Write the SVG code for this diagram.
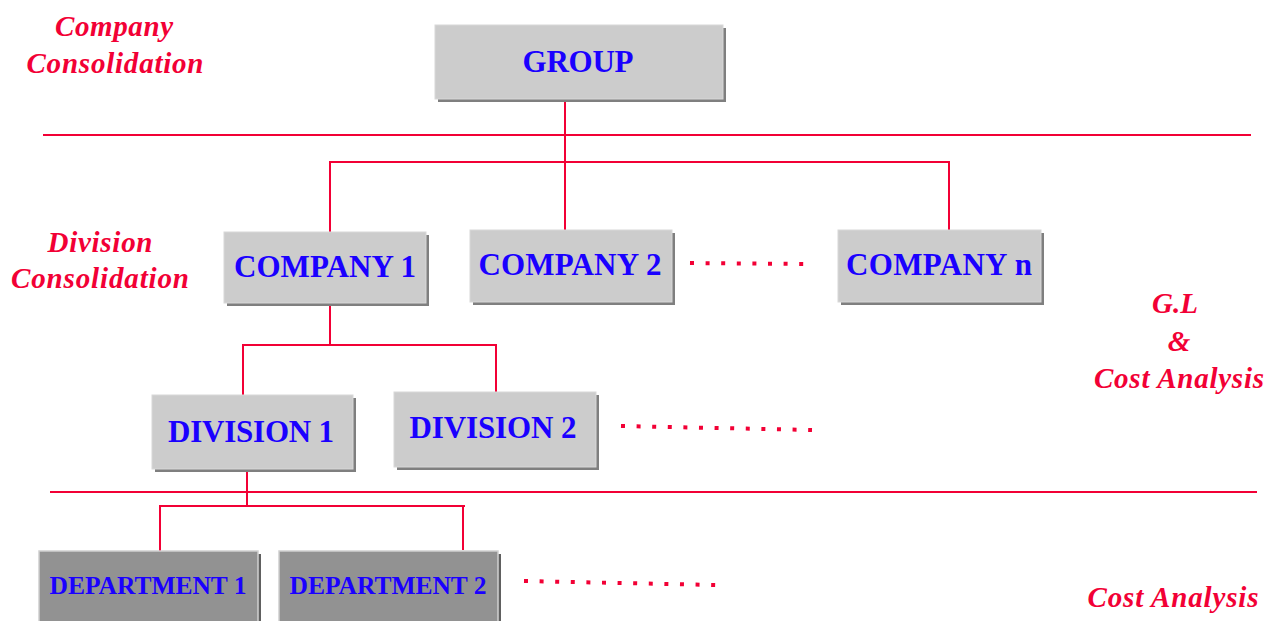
<svg xmlns="http://www.w3.org/2000/svg" width="1268" height="621" viewBox="0 0 1268 621">
<style>
.box{fill:#cccccc;stroke:#d8d8d8;stroke-width:1}
.shadow{fill:#7f7f7f}
.dbox{fill:#929292;stroke:#cfcfcf;stroke-width:1.5}
.dshadow{fill:#606060}
.bt{font-family:"Liberation Serif","Times New Roman",serif;font-weight:bold;fill:#1a00ff;text-anchor:middle}
.lbl{font-family:"Liberation Serif","Times New Roman",serif;font-weight:bold;font-style:italic;fill:#f20035;font-size:29px;text-anchor:middle}
.ln{stroke:#f20035;stroke-width:2;fill:none}
.dots{stroke:#f20035;stroke-width:4;stroke-dasharray:4 11.6;fill:none}
</style>
<rect width="1268" height="621" fill="#ffffff"/>

<g id="labels">
<text class="lbl" x="114" y="36" textLength="118" lengthAdjust="spacing">Company</text>
<text class="lbl" x="115" y="73" textLength="177" lengthAdjust="spacing">Consolidation</text>
<text class="lbl" x="100" y="252" textLength="105" lengthAdjust="spacing">Division</text>
<text class="lbl" x="100" y="288" textLength="178" lengthAdjust="spacing">Consolidation</text>
<text class="lbl" x="1175" y="313" textLength="46" lengthAdjust="spacing">G.L</text>
<text class="lbl" x="1179" y="351">&amp;</text>
<text class="lbl" x="1179" y="388" textLength="170" lengthAdjust="spacing">Cost Analysis</text>
<text class="lbl" x="1173" y="607" textLength="171" lengthAdjust="spacing">Cost Analysis</text>
</g>

<g id="connectors">
<line class="ln" x1="43" y1="135" x2="1251" y2="135"/>
<line class="ln" x1="50" y1="492" x2="1257" y2="492"/>
<line class="ln" x1="565" y1="100" x2="565" y2="231"/>
<polyline class="ln" points="330,232 330,162 949,162 949,230"/>
<line class="ln" x1="330" y1="304" x2="330" y2="345"/>
<polyline class="ln" points="243,396 243,345 496,345 496,393"/>
<line class="ln" x1="247" y1="469" x2="247" y2="506"/>
<polyline class="ln" points="160,551 160,506 465,506"/>
<line class="ln" x1="463" y1="506" x2="463" y2="550"/>
<line class="dots" x1="690" y1="263" x2="810" y2="264"/>
<line class="dots" x1="621" y1="426" x2="812" y2="430"/>
<line class="dots" x1="524" y1="581" x2="716" y2="585"/>
</g>

<g id="group">
<rect class="shadow" x="438" y="28" width="288" height="74"/>
<rect class="box" x="435" y="25" width="288" height="74"/>
<text class="bt" x="578" y="72" font-size="31" textLength="111" lengthAdjust="spacing">GROUP</text>
</g>

<g id="company1">
<rect class="shadow" x="227" y="235" width="202" height="71"/>
<rect class="box" x="224" y="232" width="202" height="71"/>
<text class="bt" x="325" y="277" font-size="31" textLength="182" lengthAdjust="spacing">COMPANY 1</text>
</g>

<g id="company2">
<rect class="shadow" x="473" y="233" width="202" height="72"/>
<rect class="box" x="470" y="230" width="202" height="72"/>
<text class="bt" x="570" y="275" font-size="31" textLength="183" lengthAdjust="spacing">COMPANY 2</text>
</g>

<g id="companyn">
<rect class="shadow" x="841" y="233" width="203" height="72"/>
<rect class="box" x="838" y="230" width="203" height="72"/>
<text class="bt" x="939" y="275" font-size="31" textLength="186" lengthAdjust="spacing">COMPANY n</text>
</g>

<g id="division1">
<rect class="shadow" x="155" y="398" width="201" height="74"/>
<rect class="box" x="152" y="395" width="201" height="74"/>
<text class="bt" x="251" y="442" font-size="31" textLength="166" lengthAdjust="spacing">DIVISION 1</text>
</g>

<g id="division2">
<rect class="shadow" x="397" y="395" width="202" height="75"/>
<rect class="box" x="394" y="392" width="202" height="75"/>
<text class="bt" x="493" y="438" font-size="31" textLength="167" lengthAdjust="spacing">DIVISION 2</text>
</g>

<g id="department1">
<rect class="dshadow" x="42" y="554" width="219" height="70"/>
<rect class="dbox" x="39" y="551" width="219" height="72"/>
<text class="bt" x="148" y="594" font-size="25.5" textLength="197" lengthAdjust="spacing">DEPARTMENT 1</text>
</g>

<g id="department2">
<rect class="dshadow" x="282" y="554" width="219" height="70"/>
<rect class="dbox" x="279" y="551" width="219" height="72"/>
<text class="bt" x="388" y="594" font-size="25.5" textLength="197" lengthAdjust="spacing">DEPARTMENT 2</text>
</g>
</svg>
